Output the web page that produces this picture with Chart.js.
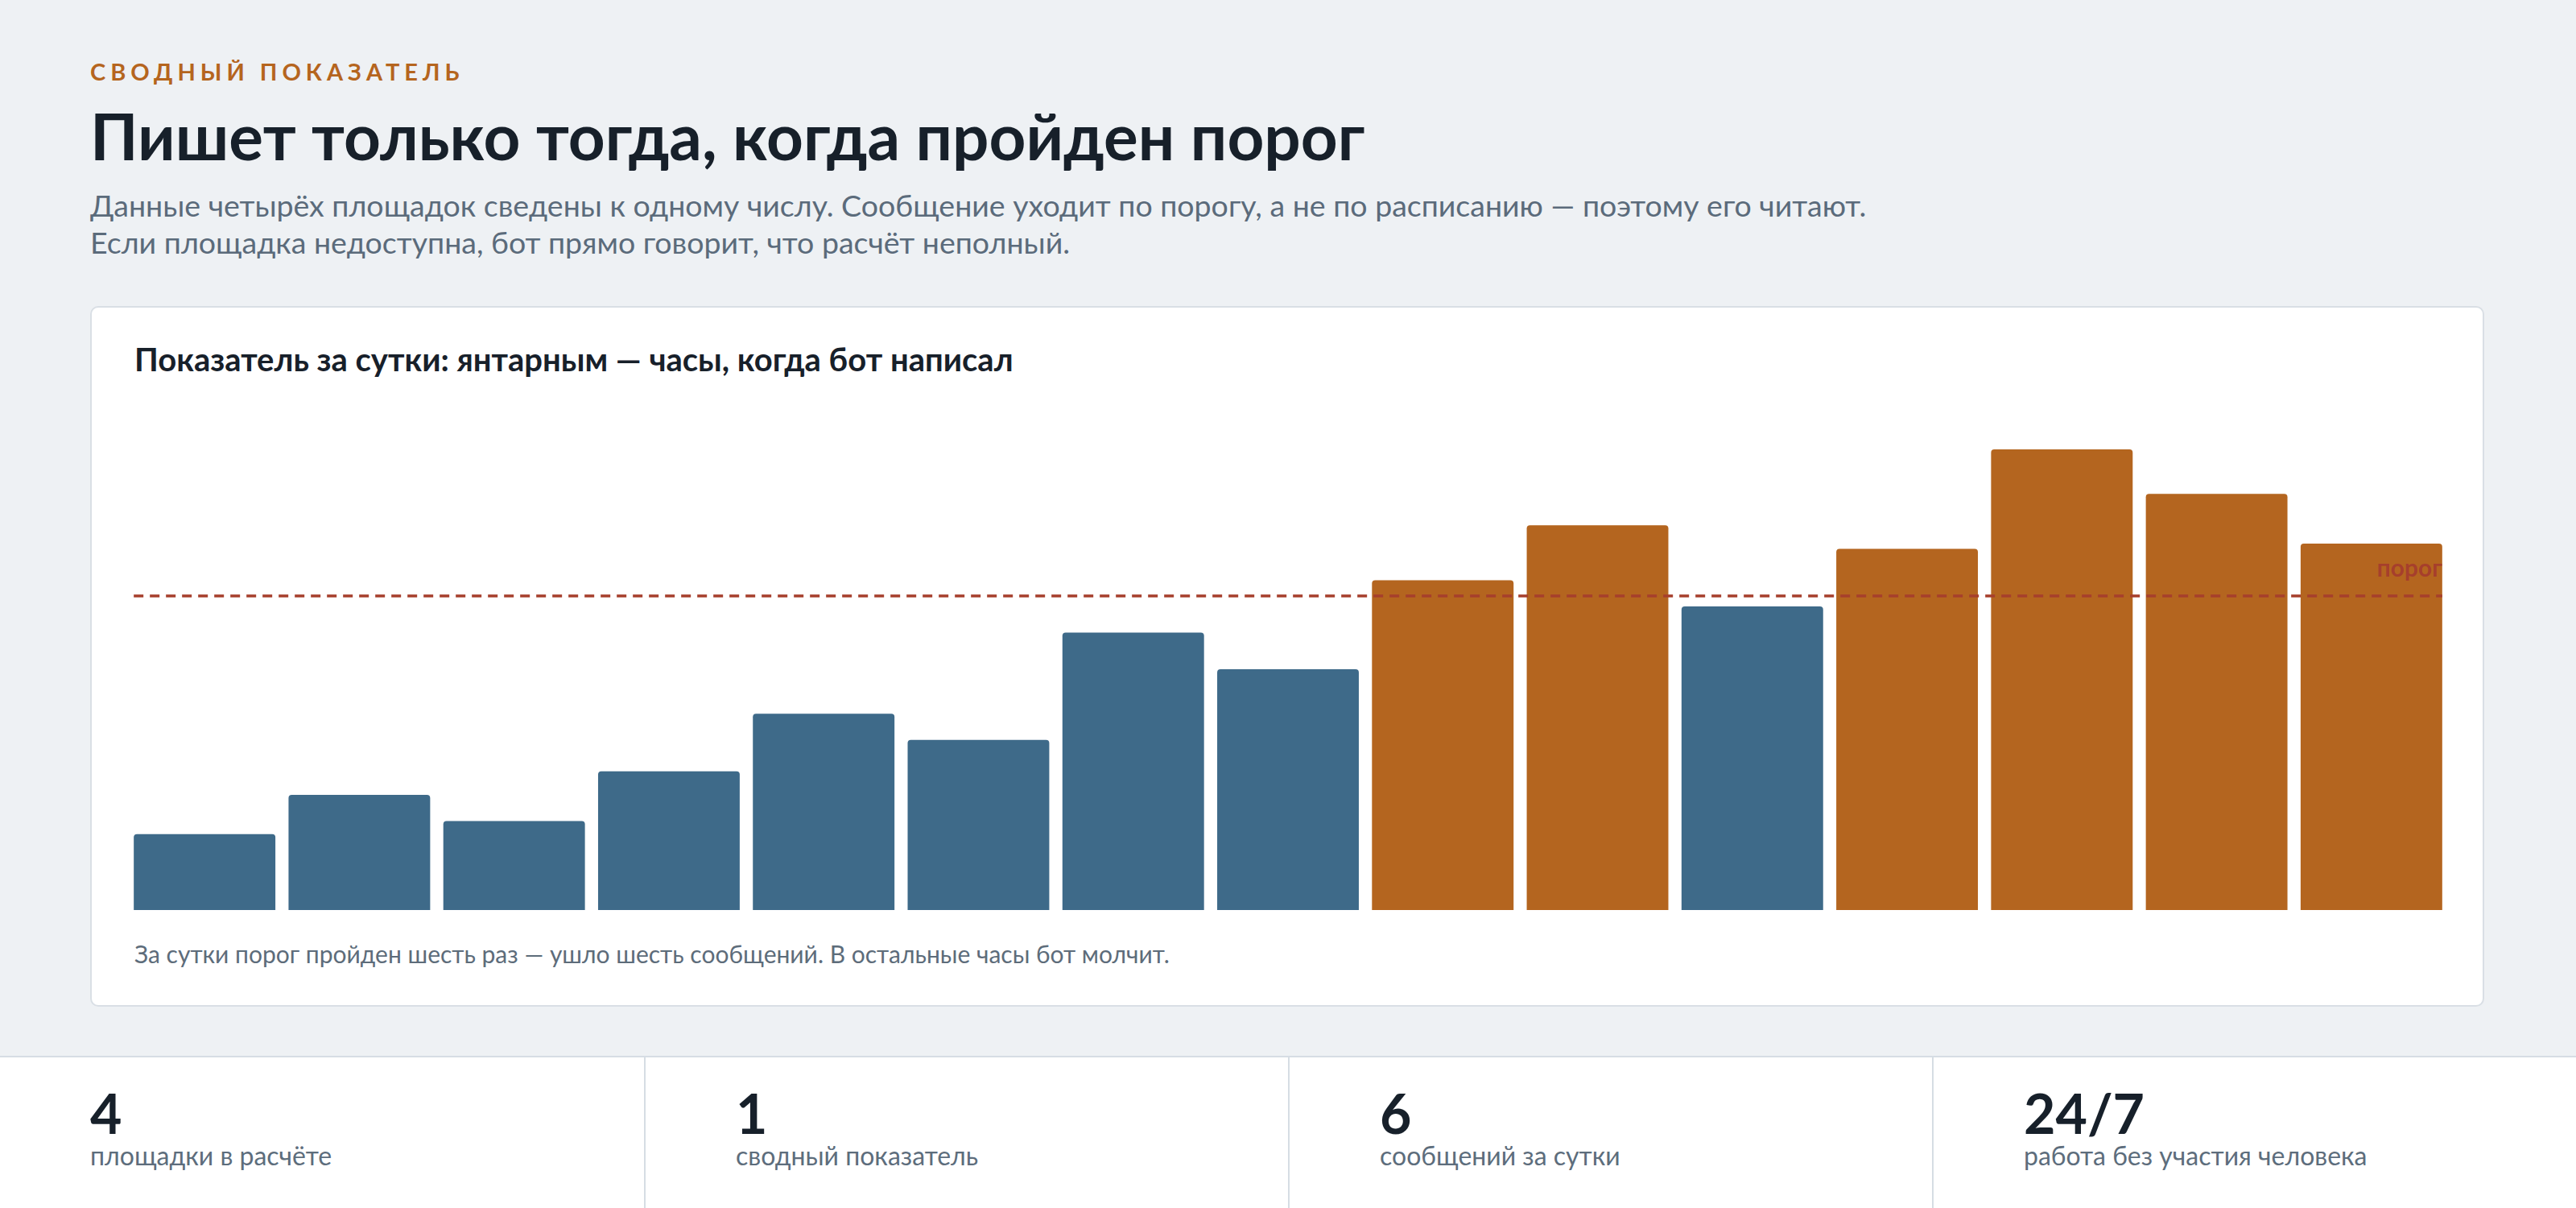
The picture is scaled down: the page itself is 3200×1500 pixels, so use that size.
<!DOCTYPE html>
<html lang="ru">
<head>
<meta charset="utf-8">
<title>Сводный показатель</title>
<script src="https://cdn.jsdelivr.net/npm/chart.js@4.4.1/dist/chart.umd.min.js"></script>
<style>
  html, body { margin: 0; padding: 0; }
  body {
    width: 3200px; height: 1500px; position: relative; overflow: hidden;
    background: #eef1f4; font-family: Lato, "Noto Sans", sans-serif; color: #17202a;
  }
  .abs { position: absolute; line-height: 1.2; white-space: nowrap; }
  #eyebrow { left: 112px; top: 72px; font-size: 29px; font-weight: 700; color: #b5651e; letter-spacing: 6px; }
  #title { left: 112px; top: 120px; font-size: 80px; font-weight: 700; }
  #sub { left: 112px; top: 232px; font-size: 37.5px; line-height: 46px; color: #5b6b7b; }
  #card {
    position: absolute; left: 112px; top: 380px; width: 2970px; height: 866px;
    background: #fff; border: 2px solid #d9dfe5; border-radius: 10px;
  }
  #chartTitle { left: 167px; top: 422px; font-size: 40px; font-weight: 700; }
  #chartBox { position: absolute; left: 158px; top: 480px; width: 2884px; height: 650px; }
  #caption { left: 167px; top: 1166px; font-size: 30px; color: #5d6c7a; }
  #strip {
    position: absolute; left: 0; top: 1311px; width: 3200px; height: 189px;
    background: #fff; border-top: 2px solid #d6dde4; display: flex;
  }
  .stat { width: 800px; position: relative; box-sizing: border-box; }
  .stat + .stat { border-left: 2px solid #d6dde4; }
  .stat .num { position: absolute; left: 112px; top: 28px; font-size: 68px; font-weight: 700; line-height: 1.2; }
  .stat .lbl { position: absolute; left: 112px; top: 103px; font-size: 32px; color: #5d6d7c; line-height: 1.2; white-space: nowrap; }
</style>
</head>
<body>
<div id="eyebrow" class="abs">СВОДНЫЙ ПОКАЗАТЕЛЬ</div>
<div id="title" class="abs">Пишет только тогда, когда пройден порог</div>
<div id="sub" class="abs">Данные четырёх площадок сведены к одному числу. Сообщение уходит по порогу, а не по расписанию — поэтому его читают.<br>Если площадка недоступна, бот прямо говорит, что расчёт неполный.</div>

<div id="card"></div>
<div id="chartTitle" class="abs">Показатель за сутки: янтарным — часы, когда бот написал</div>
<div id="chartBox"><canvas id="chart"></canvas></div>
<div id="caption" class="abs">За сутки порог пройден шесть раз — ушло шесть сообщений. В остальные часы бот молчит.</div>

<div id="strip"></div>

<script>
// hours of the day (axis is hidden in the picture)
const hours = ["00", "02", "03", "05", "06", "08", "10", "11", "13", "14", "16", "18", "19", "21", "22"];
const indexValues = [14.5, 22, 17, 26.5, 37.5, 32.5, 53, 46, 63, 73.5, 58, 69, 88, 79.5, 70];
const threshold = 60;
const thresholdLabel = "порог";

const statValues = ["4", "1", "6", "24/7"];
const statLabels = ["площадки в расчёте", "сводный показатель", "сообщений за сутки", "работа без участия человека"];

const blue = "#3e6a89";
const amber = "#b4651f";
const red = "#a63f2c";

// stats strip
const strip = document.getElementById("strip");
statValues.forEach((val, i) => {
    const cell = document.createElement("div");
    cell.className = "stat";
    const num = document.createElement("div");
    num.className = "num";
    num.textContent = val;
    const lbl = document.createElement("div");
    lbl.className = "lbl";
    lbl.textContent = statLabels[i];
    cell.appendChild(num);
    cell.appendChild(lbl);
    strip.appendChild(cell);
});

// dashed threshold line from the first bar's left edge to the last bar's right edge
const thresholdLine = {
    id: "thresholdLine",
    afterDatasetsDraw(chart) {
        const { ctx, scales } = chart;
        const bars = chart.getDatasetMeta(0).data;
        const first = bars[0], last = bars[bars.length - 1];
        const x0 = first.x - first.width / 2;
        const x1 = last.x + last.width / 2;
        const y = scales.y.getPixelForValue(threshold);
        ctx.save();
        ctx.strokeStyle = red;
        ctx.lineWidth = 3.5;
        ctx.setLineDash([12, 8]);
        ctx.beginPath();
        ctx.moveTo(x0, y);
        ctx.lineTo(x1, y);
        ctx.stroke();
        ctx.setLineDash([]);
        ctx.fillStyle = red;
        ctx.font = "700 30px Lato";
        ctx.textAlign = "right";
        ctx.textBaseline = "alphabetic";
        ctx.fillText(thresholdLabel, x1, y - 24);
        ctx.restore();
    }
};

new Chart(document.getElementById("chart"), {
    type: "bar",
    data: {
        labels: hours,
        datasets: [{
            data: indexValues,
            backgroundColor: indexValues.map(v => v > threshold ? amber : blue),
            borderRadius: 4,
            borderSkipped: "bottom",
            barPercentage: 0.915,
            categoryPercentage: 1
        }]
    },
    options: {
        responsive: true,
        maintainAspectRatio: false,
        animation: false,
        layout: { padding: 0 },
        plugins: {
            legend: { display: false },
            tooltip: { enabled: false }
        },
        scales: {
            x: { display: false },
            y: { display: false, min: 0, max: 100 }
        }
    },
    plugins: [thresholdLine]
});
</script>
</body>
</html>
